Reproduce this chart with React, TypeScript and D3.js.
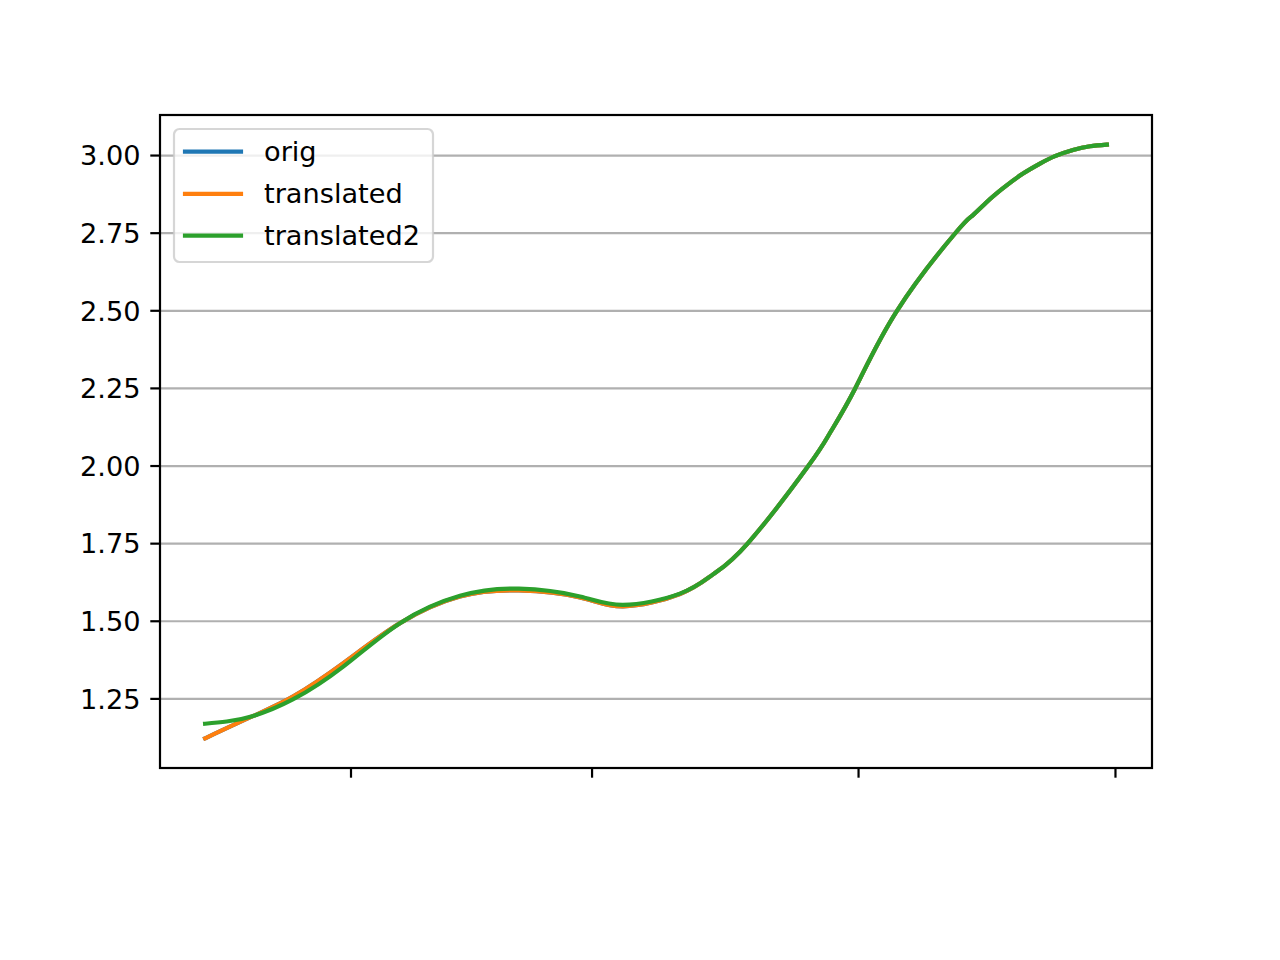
import React from "react";
import * as d3 from "d3";

const xOrig = [0, 5.34, 9.78, 15.32, 21.61, 28.27, 34.81, 41.57, 46.34, 52.66, 56.32, 60.2, 66.86, 69.3, 72.07, 76.72, 83.16, 85.15, 87.04, 88.92, 90.7, 92.58, 94.24, 96.24, 98.13, 100];
const orig = [1.123, 1.195, 1.258, 1.365, 1.494, 1.58, 1.599, 1.577, 1.548, 1.588, 1.651, 1.752, 1.999, 2.107, 2.249, 2.5, 2.749, 2.808, 2.86, 2.905, 2.942, 2.974, 2.998, 3.018, 3.03, 3.035];
const translated = [1.123, 1.195, 1.258, 1.365, 1.494, 1.58, 1.599, 1.577, 1.548, 1.588, 1.651, 1.752, 1.999, 2.107, 2.249, 2.5, 2.749, 2.808, 2.86, 2.905, 2.942, 2.974, 2.998, 3.018, 3.03, 3.035];
const xTranslated2 = [0, 2.4, 5.34, 9.78, 15.32, 21.61, 28.27, 34.81, 41.57, 46.34, 52.66, 56.32, 60.2, 66.86, 69.3, 72.07, 76.72, 83.16, 85.15, 87.04, 88.92, 90.7, 92.58, 94.24, 96.24, 98.13, 100];
const translated2 = [1.17, 1.177, 1.195, 1.249, 1.354, 1.494, 1.582, 1.605, 1.58, 1.553, 1.589, 1.651, 1.752, 1.999, 2.107, 2.249, 2.5, 2.749, 2.808, 2.86, 2.905, 2.942, 2.974, 2.998, 3.018, 3.03, 3.035];
const seriesNames = ["orig", "translated", "translated2"];
const seriesColors = ["#1f77b4", "#ff7f0e", "#2ca02c"];
const yTicks = [1.25, 1.5, 1.75, 2.0, 2.25, 2.5, 2.75, 3.0];
const xTicks = [16.18, 42.91, 72.46, 100.95];

const W = 1280, H = 960;
const L = 160, R = 1152, T = 115, B = 768;
const FONT = "'DejaVu Sans', sans-serif";
const FS = 27.2;

export default function App() {
  const allSeries = [
    { xs: xOrig, ys: orig },
    { xs: xOrig, ys: translated },
    { xs: xTranslated2, ys: translated2 },
  ];
  const x = d3.scaleLinear().domain([-5, 105]).range([L, R]);
  const allY = [...orig, ...translated, ...translated2];
  const ymin = d3.min(allY)!, ymax = d3.max(allY)!;
  const pad = (ymax - ymin) * 0.05;
  const y = d3.scaleLinear().domain([ymin - pad, ymax + pad]).range([B, T]);
  const makeLine = (xs: number[]) =>
    d3
      .line<number>()
      .x((_, i) => x(xs[i]))
      .y((d) => y(d))
      .curve(d3.curveNatural);

  const legX = 174, legY = 129, legW = 259, legH = 133;
  const rowY = [151.7, 193.8, 235.7];

  return (
    <svg width={W} height={H} style={{ position: "absolute", left: 0, top: 0, background: "#fff" }}>
      <rect x={0} y={0} width={W} height={H} fill="#fff" />
      <defs>
        <clipPath id="plotclip">
          <rect x={L} y={T} width={R - L} height={B - T} />
        </clipPath>
      </defs>
      {yTicks.map((t) => (
        <line key={"g" + t} x1={L} x2={R} y1={y(t)} y2={y(t)} stroke="#b0b0b0" strokeWidth={2.2} />
      ))}
      <g clipPath="url(#plotclip)">
        {allSeries.map((s, i) => (
          <path key={seriesNames[i]} d={makeLine(s.xs)(s.ys) || ""} fill="none" stroke={seriesColors[i]} strokeWidth={4.17} strokeLinecap="square" strokeLinejoin="round" />
        ))}
      </g>
      <rect x={L} y={T} width={R - L} height={B - T} fill="none" stroke="#000" strokeWidth={2.2} />
      {yTicks.map((t) => (
        <g key={"yt" + t}>
          <line x1={L - 9.7} x2={L} y1={y(t)} y2={y(t)} stroke="#000" strokeWidth={2.2} />
          <text x={L - 9.7 - 9.7} y={y(t)} dy="0.36em" textAnchor="end" fontFamily={FONT} fontSize={FS} fill="#000">
            {d3.format(".2f")(t)}
          </text>
        </g>
      ))}
      {xTicks.map((t) => (
        <line key={"xt" + t} x1={x(t)} x2={x(t)} y1={B} y2={B + 9.7} stroke="#000" strokeWidth={2.2} />
      ))}
      <rect x={legX} y={legY} width={legW} height={legH} rx={5.5} ry={5.5} fill="#fff" fillOpacity={0.8} stroke="#cccccc" strokeOpacity={0.8} strokeWidth={2.2} />
      {seriesNames.map((n, i) => (
        <g key={"leg" + n}>
          <line x1={185} x2={241} y1={rowY[i]} y2={rowY[i]} stroke={seriesColors[i]} strokeWidth={4.17} strokeLinecap="square" />
          <text x={264} y={rowY[i]} dy="0.35em" fontFamily={FONT} fontSize={FS} fill="#000">
            {n}
          </text>
        </g>
      ))}
    </svg>
  );
}
